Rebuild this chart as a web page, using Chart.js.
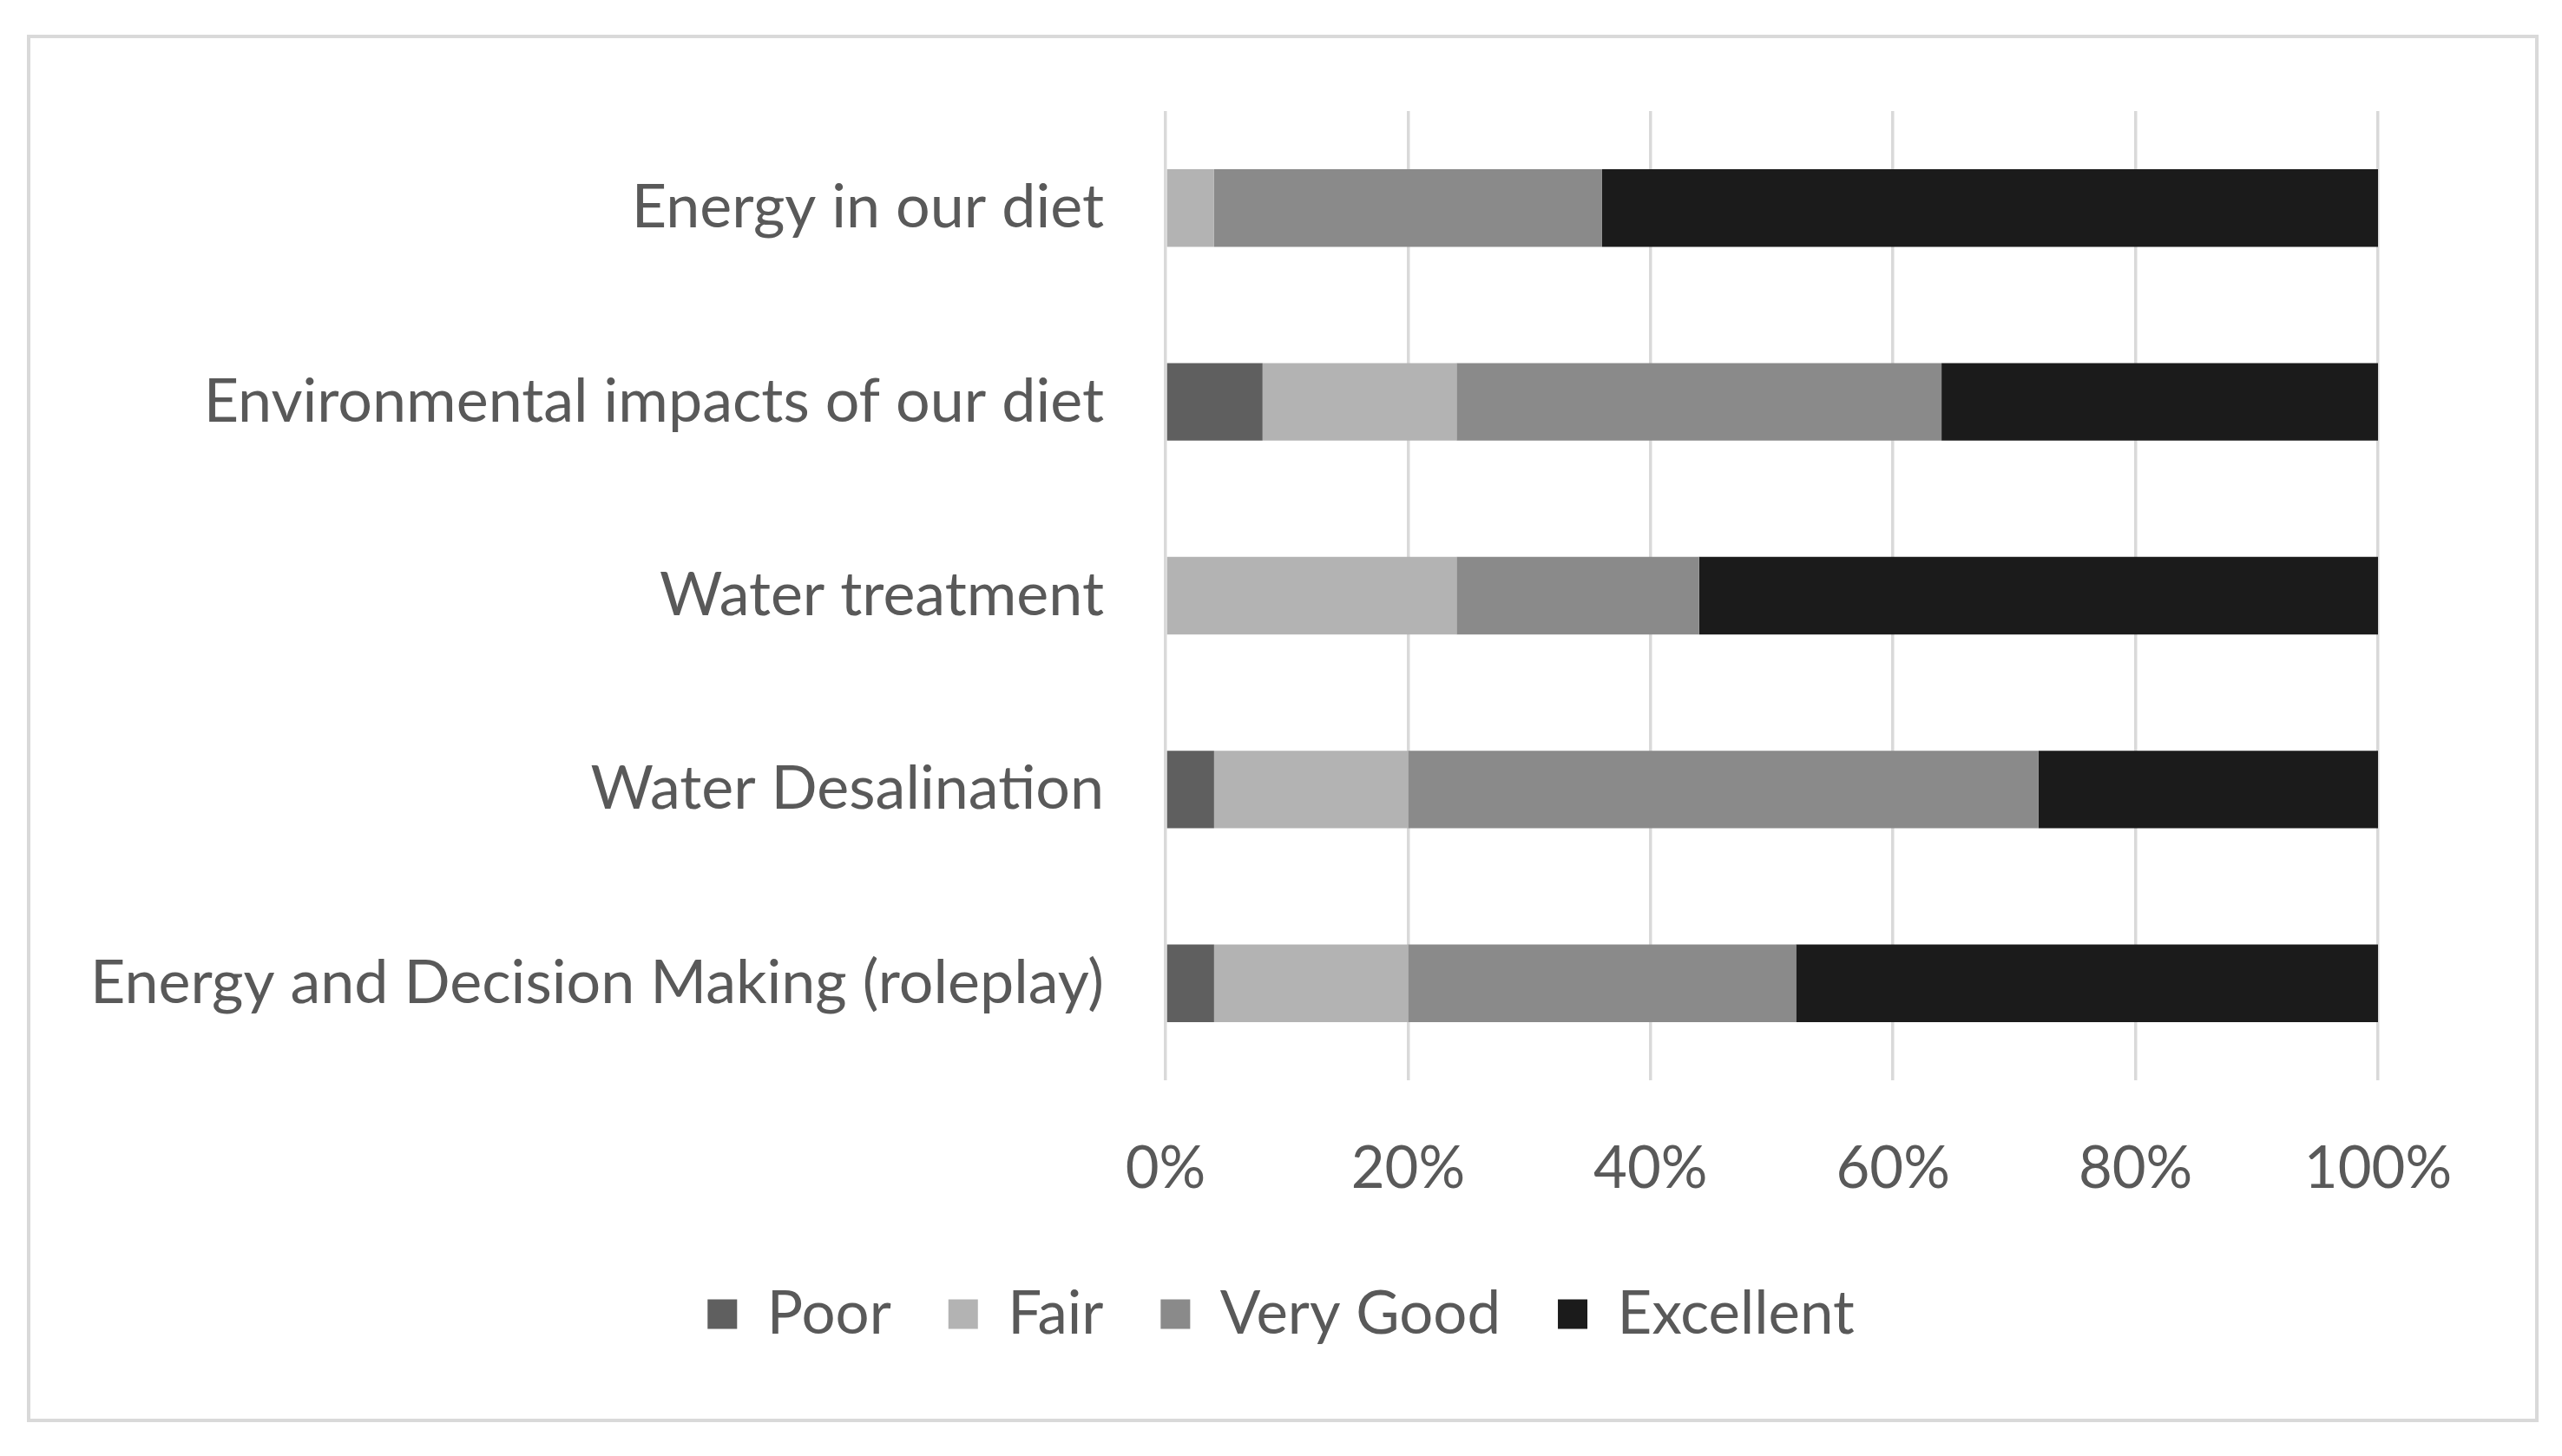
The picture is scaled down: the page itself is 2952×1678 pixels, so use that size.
<!DOCTYPE html>
<html>
<head>
<meta charset="utf-8">
<script src="https://cdn.jsdelivr.net/npm/chart.js@4"></script>
<style>
  html, body { margin: 0; padding: 0; background: #fff; }
  #wrap { position: relative; width: 2952px; height: 1678px; }
  #frame { position: absolute; left: 31px; top: 40px; width: 2886px; height: 1591px; border: 4px solid #d9d9d9; }
  #c { position: absolute; left: 0; top: 0; }
</style>
</head>
<body>
<div id="wrap">
  <div id="frame"></div>
  <canvas id="c" width="2952" height="1678"></canvas>
</div>
<script>
// ── data ─────────────────────────────
const categories = [
  'Energy in our diet',
  'Environmental impacts of our diet',
  'Water treatment',
  'Water Desalination',
  'Energy and Decision Making (roleplay)'
];
const poor      = [0, 8, 0, 4, 4];
const fair      = [4, 16, 24, 16, 16];
const veryGood  = [32, 40, 20, 52, 32];
const excellent = [64, 36, 56, 28, 48];
const xTicks    = [0, 20, 40, 60, 80, 100];

const TXT = '#595959';
const font = size => ({ family: 'Lato', size });

const ds = (label, data, color) => ({
  label, data,
  backgroundColor: color, borderWidth: 0,
  categoryPercentage: 0.4, barPercentage: 1
});

new Chart(document.getElementById('c').getContext('2d'), {
  type: 'bar',
  data: {
    labels: categories,
    datasets: [
      ds('Poor', poor, '#5f5f5f'),
      ds('Fair', fair, '#b3b3b3'),
      ds('Very Good', veryGood, '#8a8a8a'),
      ds('Excellent', excellent, '#1b1b1b')
    ]
  },
  options: {
    indexAxis: 'y',
    responsive: false,
    devicePixelRatio: 1,
    animation: false,
    layout: { padding: { left: 0, right: 0, top: 128, bottom: 119 } },
    plugins: {
      tooltip: { enabled: false },
      legend: {
        position: 'bottom',
        labels: { color: TXT, font: font(69), boxWidth: 34, boxHeight: 34, padding: 66 }
      }
    },
    scales: {
      x: {
        stacked: true, min: 0, max: 100,
        afterBuildTicks: s => { s.ticks = xTicks.map(v => ({ value: v })); },
        ticks: { color: TXT, font: font(67), padding: 62, callback: v => v + '%', maxRotation: 0 },
        grid: { color: '#d9d9d9', lineWidth: 3.5, drawTicks: false },
        border: { display: false },
        afterFit: s => { s.height = 169; }
      },
      y: {
        stacked: true,
        ticks: { color: TXT, font: font(70), padding: 71 },
        grid: { display: false, drawTicks: false },
        border: { display: false },
        afterFit: s => { s.width = 1343; }
      },
      // empty right-hand gutter so the legend centres on the whole frame
      yr: {
        type: 'category', labels: categories, position: 'right',
        ticks: { display: false }, grid: { display: false, drawTicks: false },
        border: { display: false },
        afterFit: s => { s.width = 212; }
      }
    }
  }
});
</script>
</body>
</html>
